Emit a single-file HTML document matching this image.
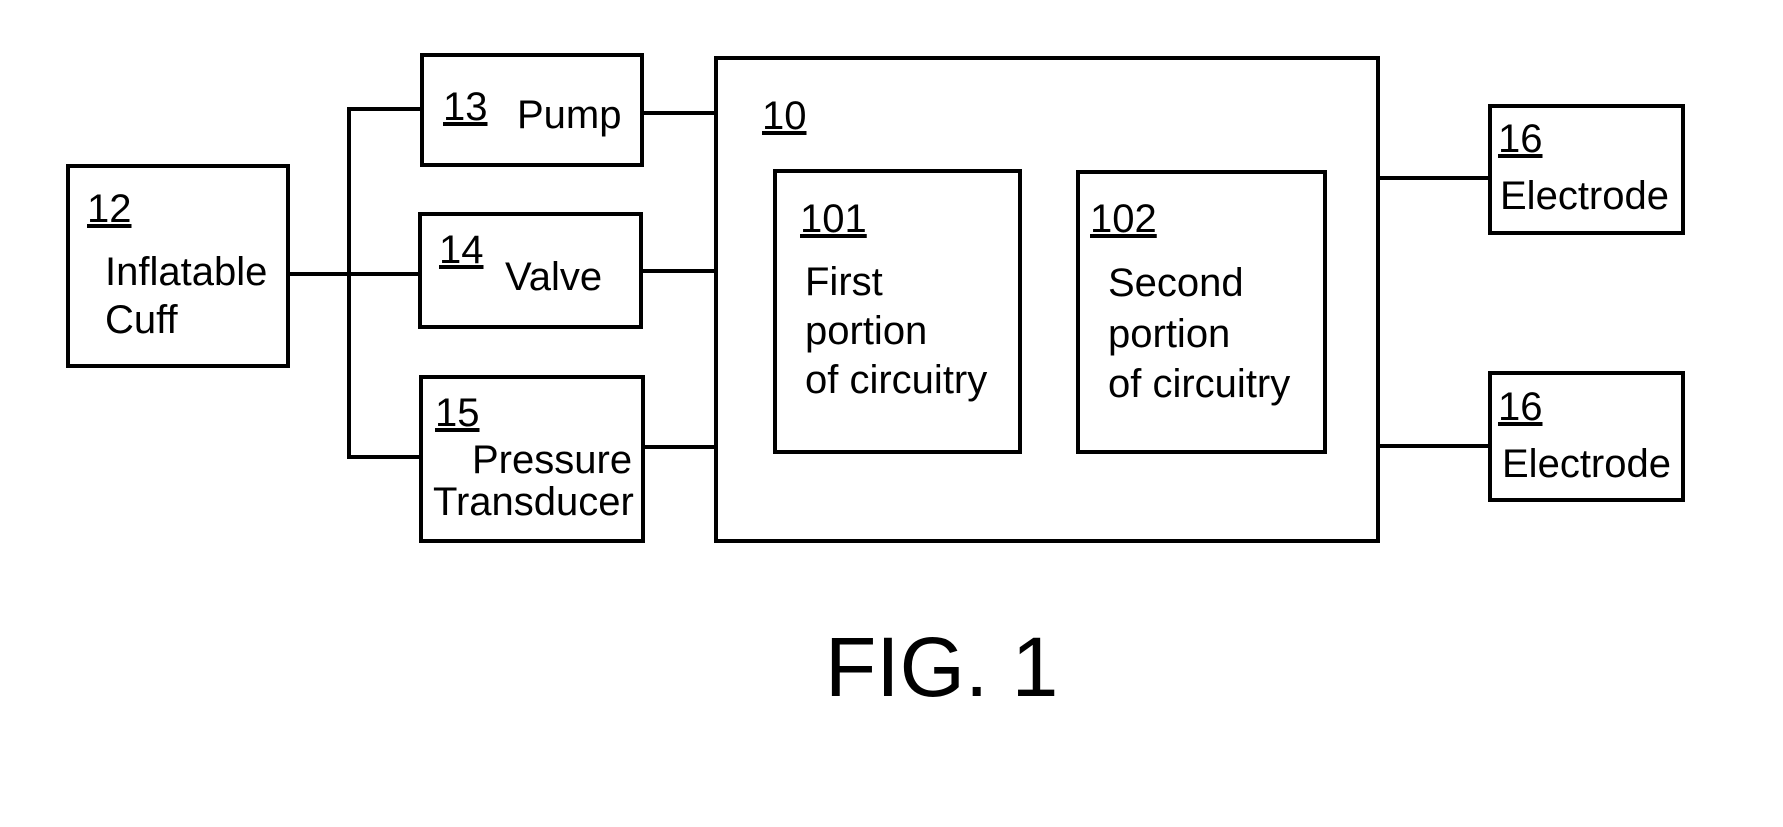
<!DOCTYPE html>
<html><head><meta charset="utf-8"><style>
html,body{margin:0;padding:0;background:#fff;}
svg{display:block;}
text{font-family:"Liberation Sans",Arial,sans-serif;font-size:40px;fill:#000;}
.u{text-decoration:underline;}
</style></head><body>
<svg width="1783" height="827" viewBox="0 0 1783 827" xmlns="http://www.w3.org/2000/svg">
<g fill="none" stroke="#000" stroke-width="4">
<rect x="68" y="166" width="220" height="200"/>
<rect x="422" y="55" width="220" height="110"/>
<rect x="420" y="214" width="221" height="113"/>
<rect x="421" y="377" width="222" height="164"/>
<rect x="716" y="58" width="662" height="483"/>
<rect x="775" y="171" width="245" height="281"/>
<rect x="1078" y="172" width="247" height="280"/>
<rect x="1490" y="106" width="193" height="127"/>
<rect x="1490" y="373" width="193" height="127"/>
<line x1="288" y1="274" x2="420" y2="274"/>
<polyline points="422,109 349,109 349,457 421,457"/>
<line x1="642" y1="113" x2="716" y2="113"/>
<line x1="641" y1="271" x2="716" y2="271"/>
<line x1="643" y1="447" x2="716" y2="447"/>
<line x1="1378" y1="178" x2="1490" y2="178"/>
<line x1="1378" y1="446" x2="1490" y2="446"/>
</g>
<text x="87" y="222" class="u">12</text>
<text x="105" y="285">Inflatable</text>
<text x="105" y="333">Cuff</text>
<text x="443" y="120" class="u">13</text>
<text x="517" y="128">Pump</text>
<text x="439" y="263" class="u">14</text>
<text x="505" y="290">Valve</text>
<text x="435" y="426" class="u">15</text>
<text x="472" y="473">Pressure</text>
<text x="433" y="515">Transducer</text>
<text x="762" y="129" class="u">10</text>
<text x="800" y="232" class="u">101</text>
<text x="805" y="295">First</text>
<text x="805" y="344">portion</text>
<text x="805" y="393">of circuitry</text>
<text x="1090" y="232" class="u">102</text>
<text x="1108" y="296">Second</text>
<text x="1108" y="347">portion</text>
<text x="1108" y="397">of circuitry</text>
<text x="1498" y="152" class="u">16</text>
<text x="1500" y="209">Electrode</text>
<text x="1498" y="420" class="u">16</text>
<text x="1502" y="477">Electrode</text>
<text x="825" y="696" style="font-size:84px">FIG. 1</text>
</svg>
</body></html>
